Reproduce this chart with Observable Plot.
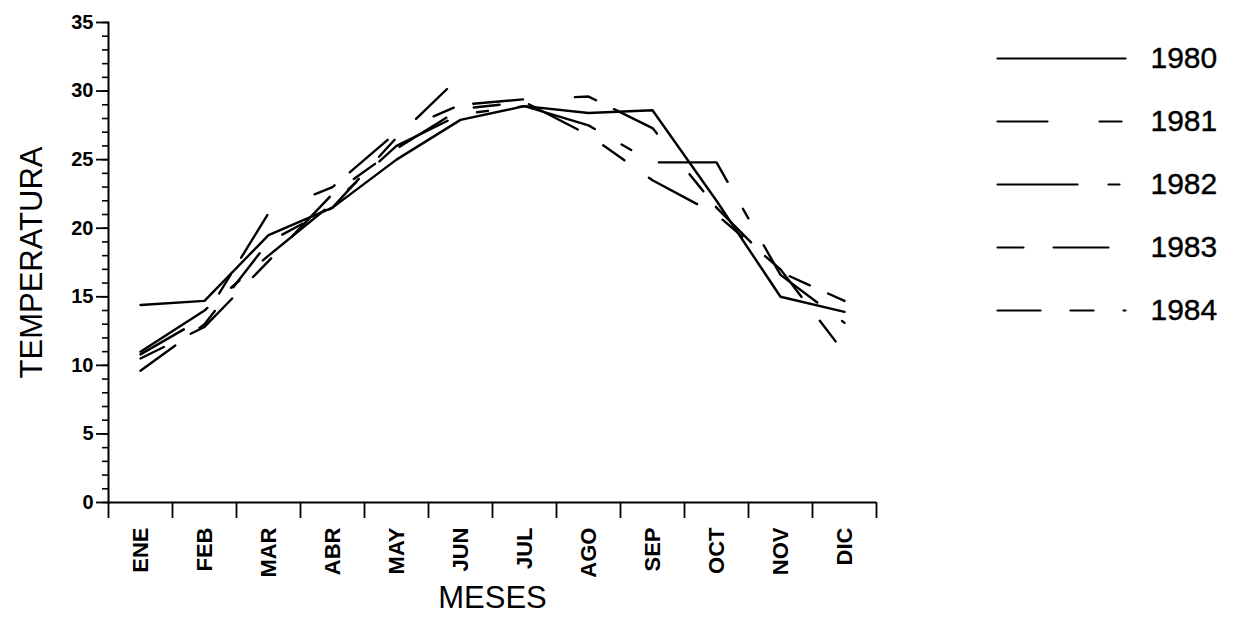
<!DOCTYPE html>
<html>
<head>
<meta charset="utf-8">
<script src="https://cdn.jsdelivr.net/npm/d3@7"></script>
<script src="https://cdn.jsdelivr.net/npm/@observablehq/plot@0.6"></script>
<style>
  html, body { margin: 0; padding: 0; background: #fff; }
  #wrap { position: relative; width: 1239px; height: 626px; }
  #legend { position: absolute; left: 990px; top: 25px; }
  svg { font-family: "Liberation Sans", Arial, Helvetica, sans-serif; }
  #chart g[aria-label="y-axis tick label"] { font-size: 20px !important; font-weight: bold; }
  #chart g[aria-label="x-axis tick label"] { font-size: 22px !important; font-weight: bold; }
</style>
</head>
<body>
<div id="wrap"><div id="chart"></div><div id="legend"></div></div>
<script>
// ---- data ----
const months = ["ENE","FEB","MAR","ABR","MAY","JUN","JUL","AGO","SEP","OCT","NOV","DIC"];
const years = ["1980","1981","1982","1983","1984"];
const t1980 = [14.4, 14.7, 19.5, 21.5, 25.0, 27.9, 28.9, 28.4, 28.6, 22.0, 15.0, 13.9];
const t1981 = [10.8, 13.5, 21.1, 23.0, 27.0, 29.0, 29.4, 29.6, 27.3, 21.5, 16.8, 14.7];
const t1982 = [11.0, 14.0, 18.0, 21.8, 26.0, 28.3, 28.9, 27.5, 24.8, 24.8, 16.6, 13.1];
const t1983 = [10.5, 12.8, 17.6, 22.5, 25.8, 28.7, 29.2, 26.8, 23.5, 21.0, 17.0, 10.9];
const t1984 = [9.6, 13.0, 19.0, 21.5, 26.6, 31.1, null, null, null, null, null, null];
const yTicks = [0, 5, 10, 15, 20, 25, 30, 35];

// ---- styles ----
const series = [
  {year: "1980", values: t1980, dash: null},
  {year: "1981", values: t1981, dash: "50,52,22,20"},
  {year: "1982", values: t1982, dash: "80,31,11,31"},
  {year: "1983", values: t1983, dash: "26,30,55,30"},
  {year: "1984", values: t1984, dash: "43,30,23,30"}
];

const W = 1239, H = 626;
const mL = 108, mR = 363, mT = 22, mB = 124;
const step = (W - mL - mR) / months.length;

const lineMarks = series.map(s => Plot.line(
  months.map((m, i) => ({month: m, temp: s.values[i]})),
  {x: "month", y: "temp", stroke: "#000", strokeWidth: 2.4,
   strokeDasharray: s.dash || undefined, strokeLinejoin: "round"}
));

const chart = Plot.plot({
  width: W, height: H,
  marginLeft: mL, marginRight: mR, marginTop: mT, marginBottom: mB,
  x: {type: "point", domain: months, padding: 0.5, axis: null},
  y: {domain: [0, 35], axis: null},
  style: {background: "#fff", color: "#000"},
  marks: [
    Plot.axisY({ticks: d3.range(0, 36), tickSize: 6, text: null, label: null, strokeWidth: 1.6}),
    Plot.axisY({ticks: yTicks, tickSize: 12, tickPadding: 3, label: null, strokeWidth: 1.8}),
    Plot.axisX({tickSize: 16, dx: -step / 2, text: null, label: null, strokeWidth: 1.8}),
    Plot.axisX({ticks: ["DIC"], tickSize: 16, dx: step / 2, text: null, label: null, strokeWidth: 1.8}),
    Plot.axisX({tickSize: 0, tickRotate: -90, tickPadding: 25, label: null}),
    Plot.ruleY([0], {strokeWidth: 2}),
    Plot.frame({anchor: "left", strokeWidth: 2}),
    ...lineMarks,
    Plot.text(["TEMPERATURA"], {frameAnchor: "left", textAnchor: "middle", rotate: -90, dx: -76, fontSize: 31, fill: "#000"}),
    Plot.text(["MESES"], {frameAnchor: "bottom", textAnchor: "middle", dy: 105, fontSize: 31, fill: "#000"})
  ]
});
document.getElementById("chart").append(chart);

// ---- legend ----
const legendData = series.flatMap(s => [{year: s.year, k: 0}, {year: s.year, k: 1}]);
const legend = Plot.plot({
  width: 249, height: 320,
  margin: 0,
  x: {domain: [0, 1], range: [7, 135], axis: null},
  y: {type: "point", domain: years, range: [32, 285], padding: 0, axis: null},
  marks: [
    ...series.map(s => Plot.line(legendData.filter(d => d.year === s.year),
      {x: "k", y: "year", stroke: "#000", strokeWidth: 2.2, strokeDasharray: s.dash || undefined})),
    Plot.text(years, {x: () => 1, y: d => d, text: d => d, dx: 25, textAnchor: "start", fontSize: 30, fill: "#000", stroke: "#000", strokeWidth: 0.4})
  ]
});
document.getElementById("legend").append(legend);
</script>
</body>
</html>
